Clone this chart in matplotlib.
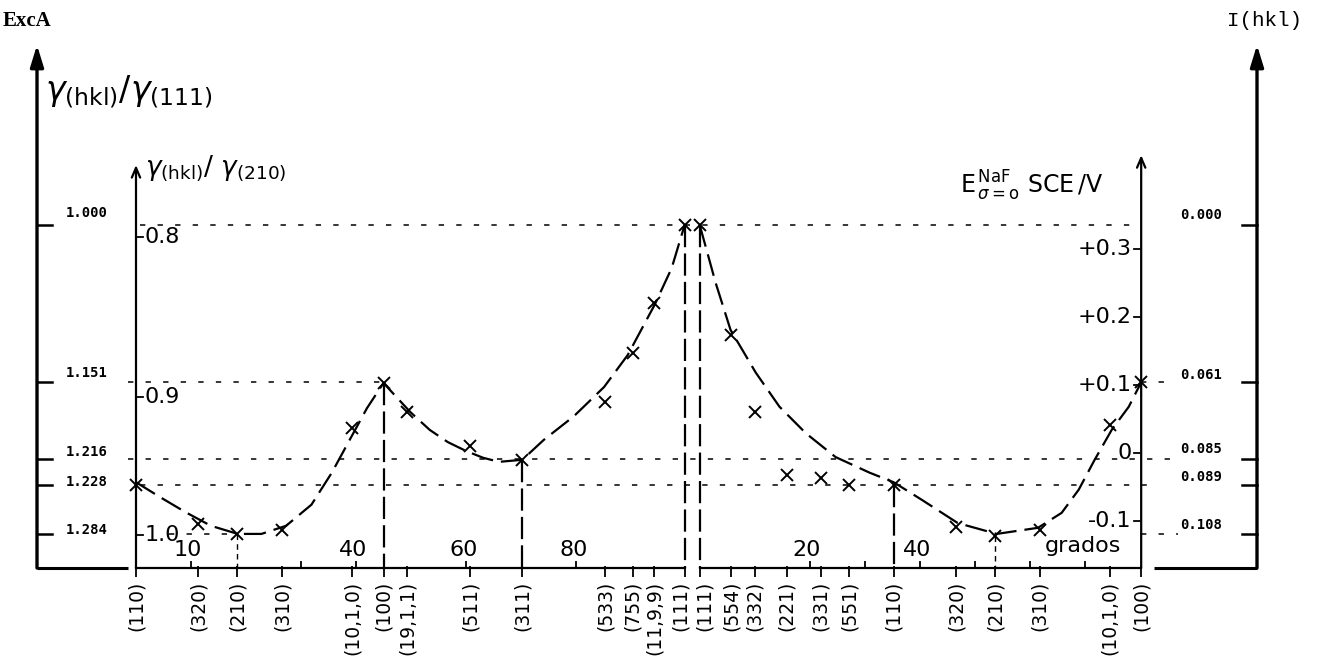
import matplotlib
matplotlib.use('Agg')
import matplotlib.pyplot as plt

# crystal faces on the left branch, angle in degrees from (110) through (100) to (111)
left_faces = ['(110)', '(320)', '(210)', '(310)', '(10,1,0)', '(100)', '(19,1,1)',
              '(511)', '(311)', '(533)', '(755)', '(11,9,9)', '(111)']
left_angle = [0.0, 11.31, 18.43, 26.57, 39.29, 45.0, 49.26, 60.79, 70.24,
              85.32, 90.29, 94.17, 99.74]
left_E = [-0.047, -0.104, -0.119, -0.113, 0.037, 0.103, 0.060, 0.010, -0.010,
          0.075, 0.147, 0.221, 0.335]

# right branch, angle from (111) through (110) to (100)
right_faces = ['(111)', '(554)', '(332)', '(221)', '(331)', '(551)', '(110)',
               '(320)', '(210)', '(310)', '(10,1,0)', '(100)']
right_angle = [0.0, 5.77, 10.02, 15.79, 22.0, 27.22, 35.26, 46.57, 53.69,
               61.83, 74.55, 80.26]
right_E = [0.335, 0.174, 0.060, -0.032, -0.037, -0.047, -0.047, -0.109, -0.122,
           -0.113, 0.041, 0.104]

# dashed guide curves
left_curve_x = [0.0, 4.4, 9.0, 13.6, 18.5, 22.8, 27.3, 31.9, 35.6, 39.3, 42.0, 45.0,
                47.5, 49.9, 53.4, 56.7, 60.0, 63.1, 66.0, 70.24, 74.1, 79.6, 85.1,
                89.4, 94.3, 97.4, 99.74]
left_curve_E = [-0.043, -0.065, -0.087, -0.107, -0.119, -0.119, -0.107, -0.076,
                -0.029, 0.026, 0.066, 0.103, 0.081, 0.060, 0.034, 0.016, 0.003,
                -0.007, -0.013, -0.010, 0.019, 0.054, 0.097, 0.144, 0.218, 0.272,
                0.335]
right_curve_x = [0.0, 2.9, 5.6, 10.2, 14.5, 19.3, 24.7, 30.9, 35.26, 40.4, 46.9,
                 54.0, 61.5, 65.8, 68.9, 71.8, 74.9, 78.0, 80.26]
right_curve_E = [0.335, 0.250, 0.181, 0.118, 0.068, 0.029, -0.006, -0.029, -0.043,
                 -0.069, -0.103, -0.119, -0.110, -0.088, -0.054, -0.010, 0.034,
                 0.068, 0.104]

# reference levels (in E units) and the outer scales written against them
levels_E = [0.335, 0.104, -0.009, -0.047, -0.119]
ratio111_labels = ['1.000', '1.151', '1.216', '1.228', '1.284']
intensity_labels = ['0.000', '0.061', '0.085', '0.089', '0.108']

# inner left scale gamma(hkl)/gamma(210)
ratio210_labels = ['0.8', '0.9', '1.0']
ratio210_E = [0.318, 0.082, -0.121]

# inner right scale E / V
E_ticks = [0.3, 0.2, 0.1, 0.0, -0.1]
E_tick_labels = ['+0.3', '+0.2', '+0.1', '0', '-0.1']

left_deg_ticks = [10, 30, 40, 60, 80]
left_deg_labels = ['10', '', '40', '60', '80']
right_deg_ticks = [20, 30, 40, 50, 60, 70]
right_deg_labels = ['20', '', '40', '', '', '']

# faces with a vertical drop line to the axis
left_drops = ['(210)', '(100)', '(311)', '(111)']
right_drops = ['(111)', '(110)', '(210)']

# layout: pixels of the 1318x671 canvas -> data units
W, H = 1318, 671
X0, PXD = 136, 5.5      # (110) at x pixel 136, 5.5 px per degree
Y0, PXV = 453, 680      # E = 0 at y pixel 453, 680 px per volt
RIGHT_OFF = 102.5       # start of the right branch
AXIS_Y = (Y0 - 568) / PXV
XO_L = (37 - X0) / PXD
XO_R = (1257 - X0) / PXD
XR = RIGHT_OFF + right_angle[-1]

plt.rcParams['font.family'] = ['DejaVu Sans']

fig = plt.figure(figsize=(W / 100, H / 100), dpi=100)
ax = fig.add_axes([0, 0, 1, 1])
ax.set_xlim(-X0 / PXD, (W - X0) / PXD)
ax.set_ylim((Y0 - H) / PXV, Y0 / PXV)
ax.axis('off')

rx = [RIGHT_OFF + a for a in right_angle]
rcx = [RIGHT_OFF + a for a in right_curve_x]

# axes lines
arrow_big = dict(arrowstyle='-|>,head_length=1.3,head_width=0.4', lw=2.4,
                 color='k', shrinkA=0, shrinkB=0)
arrow_small = dict(arrowstyle='->,head_length=0.7,head_width=0.3', lw=1.6,
                   color='k', shrinkA=0, shrinkB=0)
ax.annotate('', xy=(XO_L, 0.60), xytext=(XO_L, AXIS_Y), arrowprops=arrow_big)
ax.annotate('', xy=(XO_R, 0.60), xytext=(XO_R, AXIS_Y), arrowprops=arrow_big)
ax.annotate('', xy=(0, 0.4235), xytext=(0, AXIS_Y), arrowprops=arrow_small)
ax.annotate('', xy=(XR, 0.438), xytext=(XR, AXIS_Y), arrowprops=arrow_small)
ax.plot([XO_L, -1.45], [AXIS_Y, AXIS_Y], color='k', lw=2.2, solid_capstyle='butt')
ax.plot([XR + 2.4, XO_R], [AXIS_Y, AXIS_Y], color='k', lw=2.2, solid_capstyle='butt')
ax.plot([left_angle[0], left_angle[-1]], [AXIS_Y, AXIS_Y], color='k', lw=1.6)
ax.plot([rx[0], rx[-1]], [AXIS_Y, AXIS_Y], color='k', lw=1.6)

# reference levels
spans = [[(0.8, XR)],
         [(-1.45, 45.0), (XR, 187.0)],
         [(-1.45, 188.0)],
         [(0.8, 186.0)],
         [(6.0, 18.43), (XR, 189.5)]]
left_off = [8.5, 6.5, 5.0, 2.0, 3.0]
right_off = [7.0, 5.0, 7.5, 5.5, 6.5]
for lev, segs, l_lab, r_lab, lo, ro in zip(levels_E, spans, ratio111_labels,
                                           intensity_labels, left_off, right_off):
    for a, b in segs:
        ax.plot([a, b], [lev, lev], color='k', lw=1.1, dashes=(3.5, 8))
    ax.plot([XO_L, XO_L + 2.7], [lev, lev], color='k', lw=1.8)
    ax.plot([XO_R - 2.7, XO_R], [lev, lev], color='k', lw=1.8)
    ax.annotate(l_lab, (-9.0, lev), xytext=(0, lo), textcoords='offset points',
                ha='center', va='center', fontsize=10, fontweight='bold',
                family='DejaVu Sans Mono')
    ax.annotate(r_lab, (193.6, lev), xytext=(0, ro), textcoords='offset points',
                ha='center', va='center', fontsize=10, fontweight='bold',
                family='DejaVu Sans Mono')

# vertical drop lines
for faces, xs, es, names in [(left_faces, left_angle, left_E, left_drops),
                             (right_faces, rx, right_E, right_drops)]:
    for name in names:
        i = faces.index(name)
        if name == '(210)':
            ax.plot([xs[i], xs[i]], [es[i], AXIS_Y], color='k', lw=1.0, dashes=(4, 3))
        else:
            ax.plot([xs[i], xs[i]], [es[i], AXIS_Y], color='k', lw=1.6, dashes=(10, 2.8))

# curves and measured points
ax.plot(left_curve_x, left_curve_E, color='k', lw=1.6, dashes=(10, 3.6))
ax.plot(rcx, right_curve_E, color='k', lw=1.6, dashes=(10, 3.6))
ax.plot(left_angle, left_E, 'x', color='k', ms=9, mew=1.4)
ax.plot(rx, right_E, 'x', color='k', ms=9, mew=1.4)

# face ticks and rotated face labels (the two (111) labels pushed apart a little)
tick_len = 9 / PXV
ax.vlines(left_angle + rx, AXIS_Y - tick_len, AXIS_Y + 2 / PXV, color='k', lw=1.3)
nudge = [0] * len(left_faces) + [0] * len(right_faces)
nudge[len(left_faces) - 1] = -3
nudge[len(left_faces)] = 3
for x, lab, dx in zip(left_angle + rx, left_faces + right_faces, nudge):
    ax.annotate(lab, (x, AXIS_Y), xytext=(dx, -9), textcoords='offset points',
                rotation=90, ha='center', va='top', fontsize=13.5)

# degree ticks and labels
deg_x = left_deg_ticks + [RIGHT_OFF + d for d in right_deg_ticks]
ax.vlines(deg_x, AXIS_Y, AXIS_Y + 7 / PXV, color='k', lw=1.3)
for x, lab in zip(deg_x, left_deg_labels + right_deg_labels):
    if lab:
        ax.annotate(lab, (x, AXIS_Y), xytext=(-2, 6), textcoords='offset points',
                    ha='center', va='bottom', fontsize=16)
ax.text(RIGHT_OFF + 69.6, AXIS_Y + 16 / PXV, 'grados', ha='center',
        va='baseline', fontsize=16)

# inner left scale
for e, lab in zip(ratio210_E, ratio210_labels):
    ax.plot([0, 1.2], [e, e], color='k', lw=1.3)
    ax.text(1.5, e, lab, ha='left', va='center', fontsize=16)

# inner right E scale
for e, lab in zip(E_ticks, E_tick_labels):
    ax.plot([XR - 1.3, XR], [e, e], color='k', lw=1.3)
    ax.text(XR - 1.8, e, lab, ha='right', va='center', fontsize=16)

# axis titles
ax.text(-24.2, 0.650, 'ExcA', ha='left', va='top', fontsize=15,
        family='Liberation Serif', fontweight='bold')
ax.text(212.0, 0.650, 'I(hkl)', ha='right', va='top', fontsize=15,
        family='Liberation Mono')
ax.text(-16.5, 0.519, r'$\gamma_{\mathregular{(hkl)}}/\gamma_{\mathregular{(111)}}$',
        ha='left', va='baseline', fontsize=24)
ax.text(1.6, 0.409, r'$\gamma_{\mathregular{(hkl)}}/\ \gamma_{\mathregular{(210)}}$',
        ha='left', va='baseline', fontsize=19)
ax.text(149.8, 0.382,
        r'$\mathregular{E}^{\,\mathregular{NaF}}_{\,\sigma=\mathregular{o}}\ \mathregular{SCE\,/V}$',
        ha='left', va='baseline', fontsize=17)

fig.savefig('out.png', dpi=100, facecolor='white')
plt.close(fig)
